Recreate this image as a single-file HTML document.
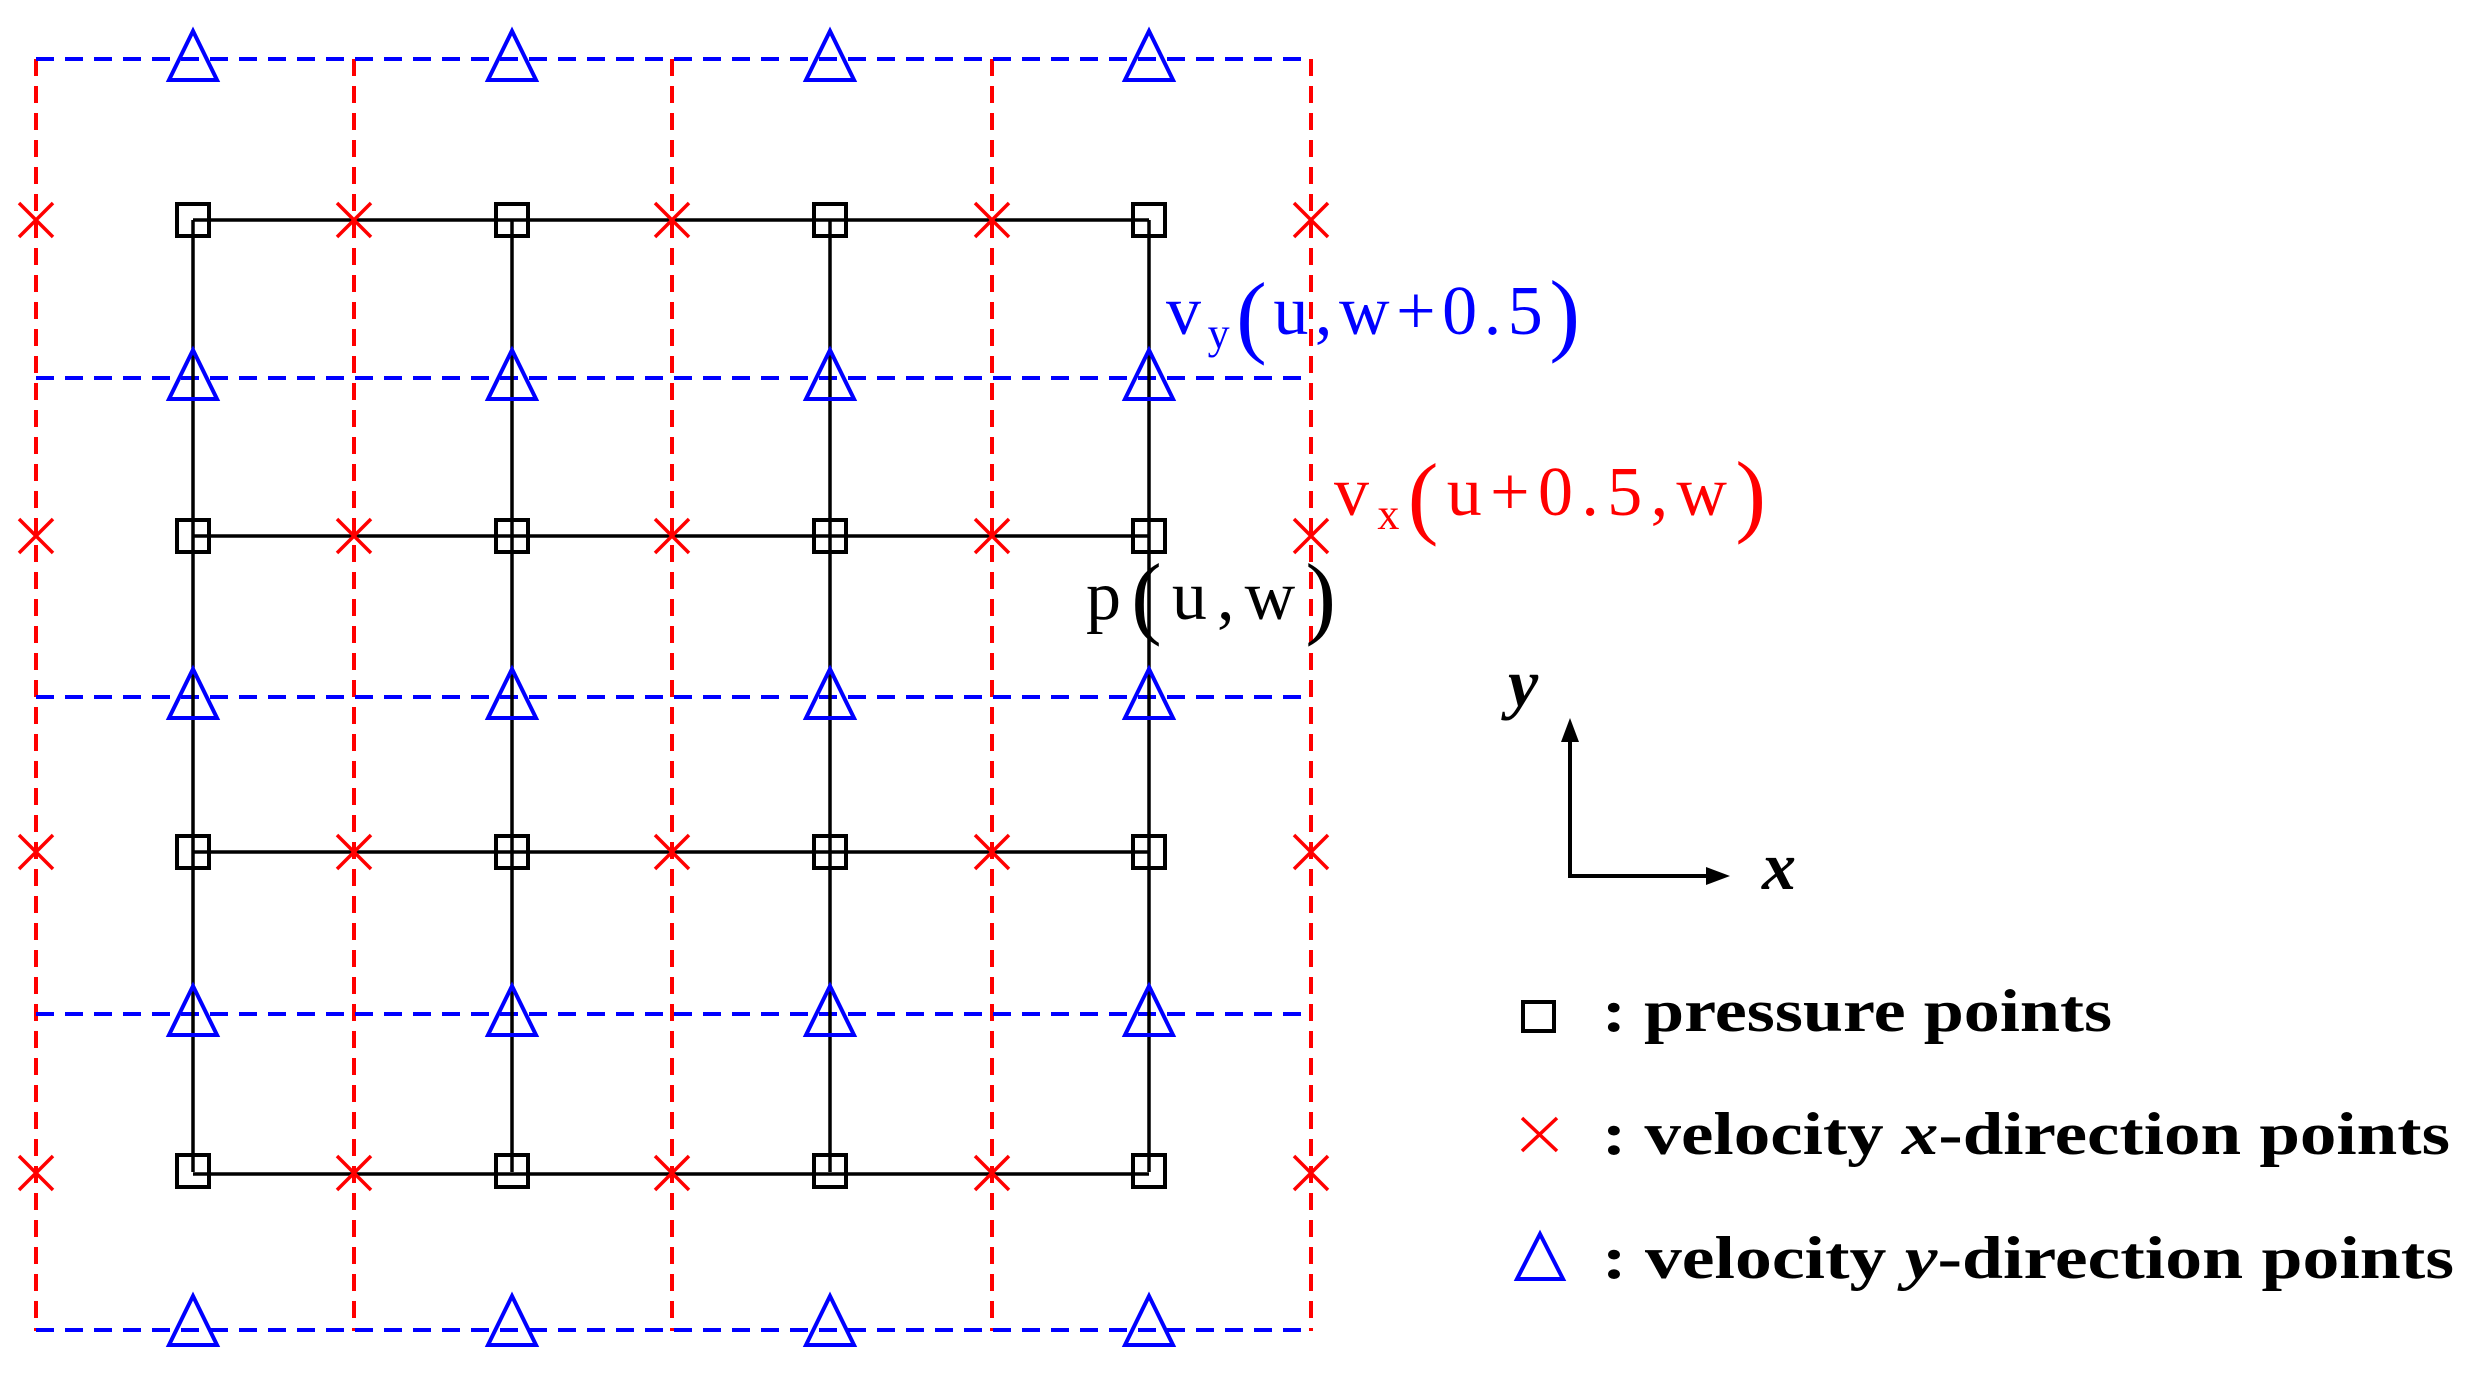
<!DOCTYPE html>
<html><head><meta charset="utf-8"><style>html,body{margin:0;padding:0;background:#fff}svg{display:block}</style></head>
<body>
<svg width="2481" height="1377" viewBox="0 0 2481 1377" xmlns="http://www.w3.org/2000/svg">
<g stroke-width="4" fill="none">
<g stroke="#ff0000" stroke-dasharray="17,10">
<line x1="36" y1="59" x2="36" y2="1331"/>
<line x1="354" y1="59" x2="354" y2="1331"/>
<line x1="672" y1="59" x2="672" y2="1331"/>
<line x1="992" y1="59" x2="992" y2="1331"/>
<line x1="1311" y1="59" x2="1311" y2="1331"/>
</g>
<g stroke="#0000ff" stroke-dasharray="18,11">
<line x1="36" y1="59" x2="1311" y2="59"/>
<line x1="36" y1="378" x2="1311" y2="378"/>
<line x1="36" y1="697" x2="1311" y2="697"/>
<line x1="36" y1="1014" x2="1311" y2="1014"/>
<line x1="36" y1="1330" x2="1311" y2="1330"/>
</g>
<g stroke="#000" stroke-width="3.5">
<line x1="193" y1="220" x2="1149" y2="220"/>
<line x1="193" y1="536" x2="1149" y2="536"/>
<line x1="193" y1="852" x2="1149" y2="852"/>
<line x1="193" y1="1174" x2="1149" y2="1174"/>
<line x1="193" y1="220" x2="193" y2="1172"/>
<line x1="512" y1="220" x2="512" y2="1172"/>
<line x1="830" y1="220" x2="830" y2="1172"/>
<line x1="1149" y1="220" x2="1149" y2="1172"/>
</g>
</g>
<defs>
<rect id="sq" x="-16" y="-16" width="32" height="32" fill="none" stroke="#000" stroke-width="4"/>
<path id="cx" d="M-17,-17 L17,17 M-17,17 L17,-17" stroke="#ff0000" stroke-width="3.5" fill="none"/>
<path id="tr" d="M0,-26 L24,23 L-24,23 Z" fill="none" stroke="#0000ff" stroke-width="4"/>
</defs>
<g>
<use href="#sq" x="193" y="220"/><use href="#sq" x="512" y="220"/><use href="#sq" x="830" y="220"/><use href="#sq" x="1149" y="220"/>
<use href="#sq" x="193" y="536"/><use href="#sq" x="512" y="536"/><use href="#sq" x="830" y="536"/><use href="#sq" x="1149" y="536"/>
<use href="#sq" x="193" y="852"/><use href="#sq" x="512" y="852"/><use href="#sq" x="830" y="852"/><use href="#sq" x="1149" y="852"/>
<use href="#sq" x="193" y="1171"/><use href="#sq" x="512" y="1171"/><use href="#sq" x="830" y="1171"/><use href="#sq" x="1149" y="1171"/>
</g>
<g>
<use href="#cx" x="36" y="220"/><use href="#cx" x="354" y="220"/><use href="#cx" x="672" y="220"/><use href="#cx" x="992" y="220"/><use href="#cx" x="1311" y="220"/>
<use href="#cx" x="36" y="536"/><use href="#cx" x="354" y="536"/><use href="#cx" x="672" y="536"/><use href="#cx" x="992" y="536"/><use href="#cx" x="1311" y="536"/>
<use href="#cx" x="36" y="852"/><use href="#cx" x="354" y="852"/><use href="#cx" x="672" y="852"/><use href="#cx" x="992" y="852"/><use href="#cx" x="1311" y="852"/>
<use href="#cx" x="36" y="1173"/><use href="#cx" x="354" y="1173"/><use href="#cx" x="672" y="1173"/><use href="#cx" x="992" y="1173"/><use href="#cx" x="1311" y="1173"/>
</g>
<g>
<use href="#tr" x="193" y="57"/><use href="#tr" x="512" y="57"/><use href="#tr" x="830" y="57"/><use href="#tr" x="1149" y="57"/>
<use href="#tr" x="193" y="376"/><use href="#tr" x="512" y="376"/><use href="#tr" x="830" y="376"/><use href="#tr" x="1149" y="376"/>
<use href="#tr" x="193" y="695"/><use href="#tr" x="512" y="695"/><use href="#tr" x="830" y="695"/><use href="#tr" x="1149" y="695"/>
<use href="#tr" x="193" y="1012"/><use href="#tr" x="512" y="1012"/><use href="#tr" x="830" y="1012"/><use href="#tr" x="1149" y="1012"/>
<use href="#tr" x="193" y="1322"/><use href="#tr" x="512" y="1322"/><use href="#tr" x="830" y="1322"/><use href="#tr" x="1149" y="1322"/>
</g>
<g font-family="Liberation Serif, serif">
<text x="1166" y="334" font-size="70" fill="#0000ff" textLength="414" lengthAdjust="spacing">v<tspan font-size="44" dy="14">y</tspan><tspan font-size="92" font-weight="100" dy="-2">(</tspan><tspan font-size="70" dy="-12">u,</tspan><tspan>w</tspan><tspan>+0.5</tspan><tspan font-size="92" dy="10">)</tspan></text>
<text x="1334" y="515" font-size="70" fill="#ff0000" textLength="432" lengthAdjust="spacing">v<tspan font-size="44" dy="14">x</tspan><tspan font-size="92" dy="-2">(</tspan><tspan font-size="70" dy="-12">u+0.5,</tspan><tspan>w</tspan><tspan font-size="92" dy="10">)</tspan></text>
<text x="1086" y="619" font-size="70" fill="#000" textLength="250" lengthAdjust="spacing">p<tspan font-size="92" dy="8">(</tspan><tspan font-size="70" dy="-8">u,</tspan><tspan>w</tspan><tspan font-size="92" dy="8">)</tspan></text>
</g>
<g stroke="#000" stroke-width="4" fill="none">
<line x1="1570" y1="740" x2="1570" y2="876"/>
<line x1="1568" y1="876" x2="1710" y2="876"/>
</g>
<path d="M1570,718 L1561,742 L1579,742 Z" fill="#000"/>
<path d="M1730,876 L1706,867 L1706,885 Z" fill="#000"/>
<text x="1508" y="706" font-family="Liberation Serif, serif" font-size="68" font-style="italic" font-weight="bold">y</text>
<text x="1762" y="889" font-family="Liberation Serif, serif" font-size="68" font-style="italic" font-weight="bold">x</text>
<rect x="1523" y="1002" width="31" height="29" fill="none" stroke="#000" stroke-width="4"/>
<path d="M1522,1118 L1557,1151 M1522,1151 L1557,1118" stroke="#ff0000" stroke-width="3.5"/>
<path d="M1540,1234 L1563,1279 L1517,1279 Z" fill="none" stroke="#0000ff" stroke-width="4"/>
<g font-family="Liberation Serif, serif" font-size="60" font-weight="bold">
<text x="1602" y="1031" textLength="510" lengthAdjust="spacingAndGlyphs">: pressure points</text>
<text x="1602" y="1154" textLength="848" lengthAdjust="spacingAndGlyphs">: velocity <tspan font-style="italic">x</tspan>-direction points</text>
<text x="1602" y="1278" textLength="852" lengthAdjust="spacingAndGlyphs">: velocity <tspan font-style="italic">y</tspan>-direction points</text>
</g>
</svg>
</body></html>
